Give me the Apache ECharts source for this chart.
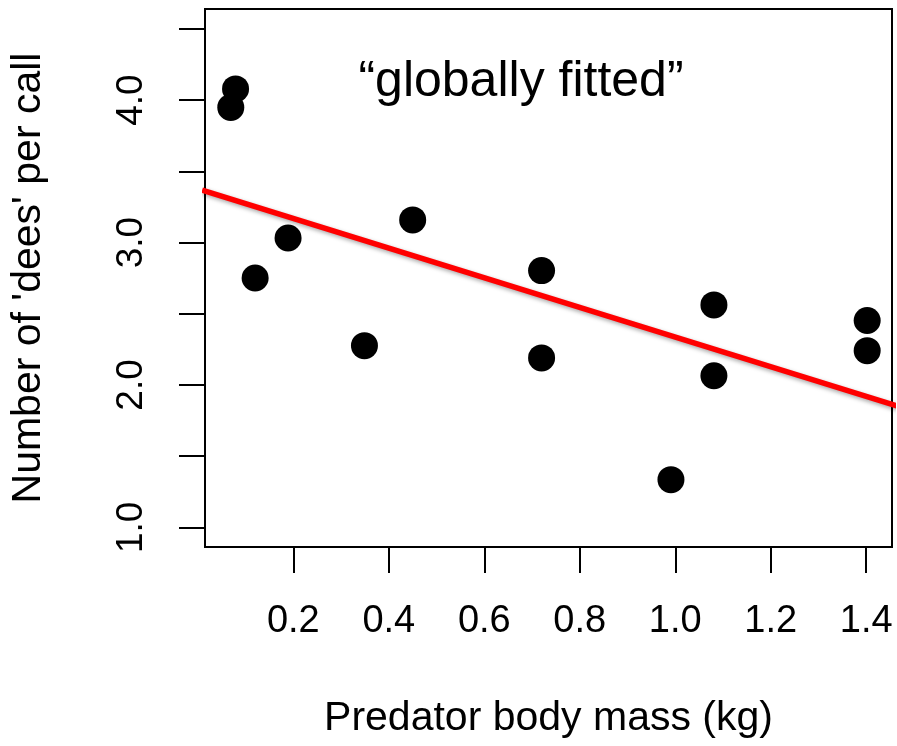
<!DOCTYPE html>
<html>
<head>
<meta charset="utf-8">
<script src="https://cdn.jsdelivr.net/npm/echarts@6/dist/echarts.min.js"></script>
<style>
html,body{margin:0;padding:0;background:#fff;}
#chart{width:897px;height:746px;}
</style>
</head>
<body>
<div id="chart"></div>
<script>
// Data
const massKg = [0.069, 0.079, 0.120, 0.189, 0.349, 0.450, 0.720, 0.720, 0.991, 1.081, 1.081, 1.402, 1.402];
const deesPerCall = [3.949, 4.079, 2.751, 3.032, 2.276, 3.159, 2.803, 2.190, 1.335, 2.562, 2.065, 2.452, 2.241];
const fitX = [0.009, 1.465];
const fitY = [3.368, 1.852];
const xTicks = [0.2, 0.4, 0.6, 0.8, 1.0, 1.2, 1.4];
const yTicks = [1.0, 1.5, 2.0, 2.5, 3.0, 3.5, 4.0, 4.5];
const yLabels = [1.0, 2.0, 3.0, 4.0];
const annotation = '\u201cglobally fitted\u201d';
const xTitle = 'Predator body mass (kg)';
const yTitle = "Number of 'dees' per call";

const FONT = '"Liberation Sans", Arial, Helvetica, sans-serif';
const chart = echarts.init(document.getElementById('chart'), null, {renderer: 'canvas'});

chart.setOption({
  animation: false,
  backgroundColor: '#ffffff',
  grid: {
    left: 205, top: 9, width: 687, height: 538,
    show: true, borderColor: '#000', borderWidth: 2, backgroundColor: 'transparent'
  },
  xAxis: {
    type: 'value', min: 0.015, max: 1.454,
    name: xTitle, nameLocation: 'middle', nameGap: 151,
    nameTextStyle: {fontFamily: FONT, fontSize: 41, color: '#000'},
    axisLine: {show: false},
    splitLine: {show: false},
    axisTick: {show: true, inside: false, length: 26, lineStyle: {color: '#000', width: 2}, customValues: xTicks},
    axisLabel: {show: true, margin: 56, fontFamily: FONT, fontSize: 38, color: '#000',
      customValues: xTicks, formatter: v => v.toFixed(1)}
  },
  yAxis: {
    type: 'value', min: 0.862, max: 4.640,
    name: yTitle, nameLocation: 'middle', nameGap: 156, nameRotate: 90,
    nameTextStyle: {fontFamily: FONT, fontSize: 41, color: '#000'},
    axisLine: {show: false},
    splitLine: {show: false},
    axisTick: {show: true, inside: false, length: 26, lineStyle: {color: '#000', width: 2}, customValues: yTicks},
    axisLabel: {show: true, rotate: 90, margin: 55, fontFamily: FONT, fontSize: 37, color: '#000',
      customValues: yLabels, formatter: v => v.toFixed(1)}
  },
  series: [
    {
      type: 'scatter',
      data: massKg.map((x, i) => [x, deesPerCall[i]]),
      symbol: 'circle', symbolSize: 27,
      itemStyle: {color: '#000', opacity: 1},
      emphasis: {disabled: true},
      z: 2
    },
    {
      type: 'line',
      data: fitX.map((x, i) => [x, fitY[i]]),
      showSymbol: false, symbol: 'none', clip: false,
      lineStyle: {color: '#ff0000', width: 5.5, shadowColor: 'rgba(0,0,0,0.35)', shadowBlur: 4, shadowOffsetX: 1, shadowOffsetY: 2},
      emphasis: {disabled: true},
      z: 3
    }
  ],
  graphic: [
    {
      type: 'text', x: 521, y: 82,
      style: {text: annotation, fontFamily: FONT, fontSize: 50, fill: '#000', align: 'center', verticalAlign: 'middle'}
    }
  ]
});
</script>
</body>
</html>
